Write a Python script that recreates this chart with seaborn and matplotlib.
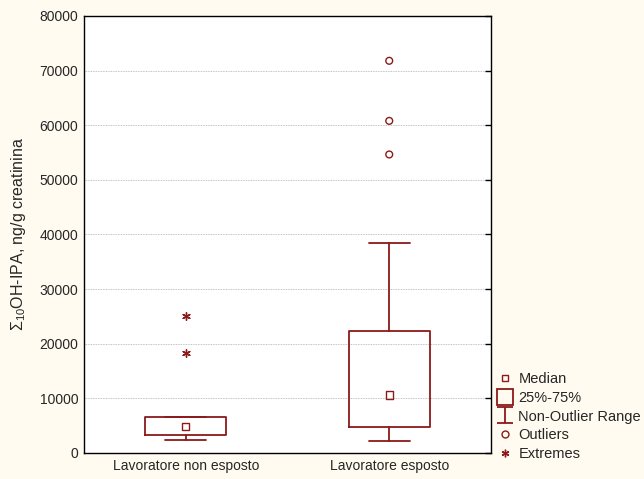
import matplotlib
matplotlib.use("Agg")
import matplotlib.pyplot as plt
from matplotlib.lines import Line2D
from matplotlib.path import Path
import seaborn as sns
import numpy as np

# values
groups = ["Lavoratore non esposto", "Lavoratore esposto"]
medians = [4900, 10600]
q1 = [3250, 4750]
q3 = [6600, 22400]
whisk_lo = [2450, 2250]
whisk_hi = [6600, 38400]
outlier_group = [1, 1, 1]
outlier_vals = [71800, 60800, 54650]
extreme_group = [0, 0]
extreme_vals = [25000, 18250]

RED = "#8B1A1A"
BG = "#FFFBF0"

sns.set_style("white")
plt.rcParams["font.family"] = ["Liberation Sans", "DejaVu Sans"]
plt.rcParams["mathtext.fontset"] = "custom"
plt.rcParams["mathtext.rm"] = "Liberation Sans"
plt.rcParams["mathtext.it"] = "Liberation Sans:italic"

fig = plt.figure(figsize=(6.44, 4.79), dpi=100, facecolor=BG)
ax = fig.add_axes([0.1304, 0.0543, 0.632, 0.9123])
ax.set_facecolor("white")

stats = []
for i, g in enumerate(groups):
    stats.append({"label": g, "med": medians[i], "q1": q1[i], "q3": q3[i],
                  "whislo": whisk_lo[i], "whishi": whisk_hi[i], "fliers": []})

ax.bxp(stats, positions=range(len(groups)), widths=0.4, showfliers=False,
       boxprops=dict(color=RED, linewidth=1.3),
       whiskerprops=dict(color=RED, linewidth=1.3),
       capprops=dict(color=RED, linewidth=1.3),
       medianprops=dict(linewidth=0), capwidths=0.2)

sns.scatterplot(x=list(range(len(groups))), y=medians, marker="s", s=28,
                facecolors="none", edgecolor=RED, linewidth=1.0, ax=ax, zorder=5)
sns.scatterplot(x=outlier_group, y=outlier_vals, marker="o", s=24,
                facecolors="none", edgecolor=RED, linewidth=1.0, ax=ax, zorder=5)
sns.scatterplot(x=extreme_group, y=extreme_vals, marker=(6, 2, 0), s=30,
                color=RED, edgecolor=RED, linewidth=1.0, ax=ax, zorder=5)

ax.set_xlim(-0.5, 1.5)
ax.set_ylim(0, 80000)
ax.set_yticks(np.arange(0, 80001, 10000))
ax.set_xticks(range(len(groups)))
ax.set_xticklabels(groups)
ax.yaxis.grid(True, color="#B0B0B0", linestyle=(0, (1, 1)), linewidth=0.6)
ax.set_axisbelow(True)
ax.tick_params(axis="both", direction="in", length=4, labelsize=10, color="black",
               width=1, pad=4)
ax.tick_params(axis="y", right=True)
for s in ax.spines.values():
    s.set_color("black")
    s.set_linewidth(1.0)
ax.set_ylabel(r"$\Sigma_{10}$OH-IPA, ng/g creatinina", fontsize=11.5, labelpad=8)

# legend with custom symbols
ipath = Path([(-1, 1), (1, 1), (0, 1), (0, -1), (-1, -1), (1, -1)],
             [Path.MOVETO, Path.LINETO, Path.MOVETO, Path.LINETO, Path.MOVETO, Path.LINETO])
handles = [
    Line2D([], [], marker="s", linestyle="none", markersize=5, markerfacecolor="none",
           markeredgecolor=RED, markeredgewidth=1.0),
    Line2D([], [], marker="s", linestyle="none", markersize=12, markerfacecolor="none",
           markeredgecolor=RED, markeredgewidth=1.3),
    Line2D([], [], marker=ipath, linestyle="none", markersize=12, markerfacecolor="none",
           markeredgecolor=RED, markeredgewidth=1.3),
    Line2D([], [], marker="o", linestyle="none", markersize=5, markerfacecolor="none",
           markeredgecolor=RED, markeredgewidth=1.0),
    Line2D([], [], marker=(6, 2, 0), linestyle="none", markersize=5.5, color=RED,
           markeredgewidth=1.0),
]
labels = ["Median", "25%-75%", "Non-Outlier Range", "Outliers", "Extremes"]
fig.legend(handles, labels, loc="lower left", bbox_to_anchor=(0.762, 0.022),
           frameon=False, fontsize=10.5, handlelength=1.0, handletextpad=0.4,
           labelspacing=0.33, borderpad=0)

fig.savefig("out.png", dpi=100, facecolor=BG)
